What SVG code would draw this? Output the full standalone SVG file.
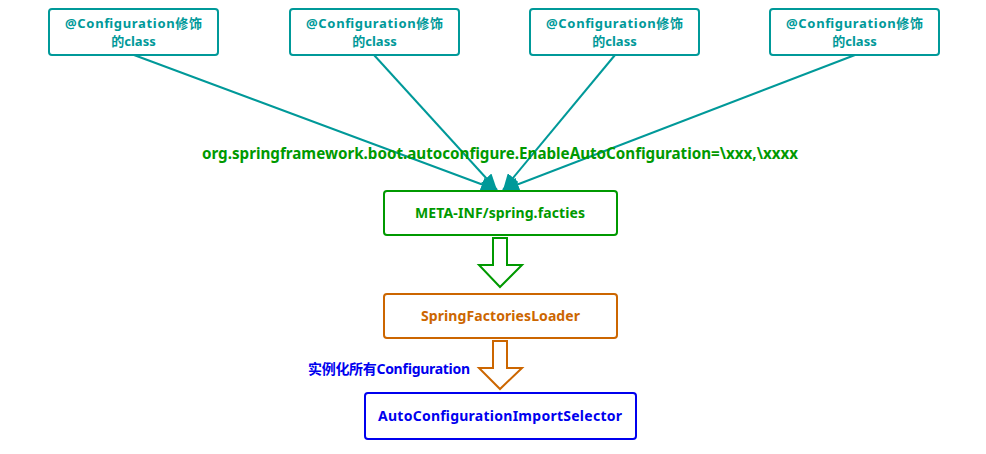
<svg xmlns="http://www.w3.org/2000/svg" width="986" height="454" viewBox="0 0 986 454">
<defs>
<style>
text{font-family:"Noto Sans","Noto Sans CJK SC",sans-serif;font-weight:bold;text-anchor:middle}
.top rect{fill:#fff;stroke:#009999;stroke-width:2}
.top text{fill:#009999;font-size:13px}
.conn line{stroke:#009999;stroke-width:2}
</style>
<marker id="ahb" viewBox="0 0 16 14" refX="16" refY="7" markerWidth="16" markerHeight="14" markerUnits="userSpaceOnUse" orient="auto">
<path d="M0,0 L16,7 L0,14 z" fill="#009999"/>
</marker>
</defs>
<rect width="986" height="454" fill="#fff"/>
<g class="conn" id="connectors">
<line x1="134" y1="55" x2="497" y2="190" marker-end="url(#ahb)"/>
<line x1="374" y1="55" x2="497" y2="190" marker-end="url(#ahb)"/>
<line x1="615" y1="55" x2="503" y2="190" marker-end="url(#ahb)"/>
<line x1="855" y1="55" x2="503" y2="190" marker-end="url(#ahb)"/>
</g>
<g class="top" id="cfg1"><rect x="49" y="9" width="169" height="46" rx="3"/><text x="133.5" y="28" textLength="137">@Configuration修饰</text><text x="133.5" y="46">的class</text></g>
<g class="top" id="cfg2"><rect x="290" y="9" width="169" height="46" rx="3"/><text x="374.5" y="28" textLength="137">@Configuration修饰</text><text x="374.5" y="46">的class</text></g>
<g class="top" id="cfg3"><rect x="530" y="9" width="169" height="46" rx="3"/><text x="614.5" y="28" textLength="137">@Configuration修饰</text><text x="614.5" y="46">的class</text></g>
<g class="top" id="cfg4"><rect x="770" y="9" width="169" height="46" rx="3"/><text x="854.5" y="28" textLength="137">@Configuration修饰</text><text x="854.5" y="46">的class</text></g>
<g id="label-key"><text x="500" y="159" fill="#009900" font-size="15.2" textLength="596">org.springframework.boot.autoconfigure.EnableAutoConfiguration=\xxx,\xxxx</text></g>
<g id="meta"><rect x="384" y="191" width="233" height="44" rx="3" fill="#fff" stroke="#009900" stroke-width="2"/><text x="500" y="218" fill="#009900" font-size="14" textLength="170">META-INF/spring.facties</text></g>
<g id="arrow1"><path d="M493,238 H507 V265 H522 L500,287 L479,265 H493 Z" fill="#fff" stroke="#009900" stroke-width="2"/></g>
<g id="loader"><rect x="384" y="294" width="233" height="44" rx="3" fill="#fff" stroke="#CC6600" stroke-width="2"/><text x="500.5" y="321" fill="#CC6600" font-size="14" textLength="159">SpringFactoriesLoader</text></g>
<g id="arrow2"><path d="M493,341 H507 V368 H522 L500,389 L479,368 H493 Z" fill="#fff" stroke="#CC6600" stroke-width="2"/></g>
<g id="label-inst"><text x="389" y="374" fill="#0000EE" font-size="14" textLength="162">实例化所有Configuration</text></g>
<g id="selector"><rect x="365" y="393" width="271" height="46" rx="3" fill="#fff" stroke="#0000EE" stroke-width="2"/><text x="500" y="421" fill="#0000EE" font-size="14" textLength="244">AutoConfigurationImportSelector</text></g>
</svg>
